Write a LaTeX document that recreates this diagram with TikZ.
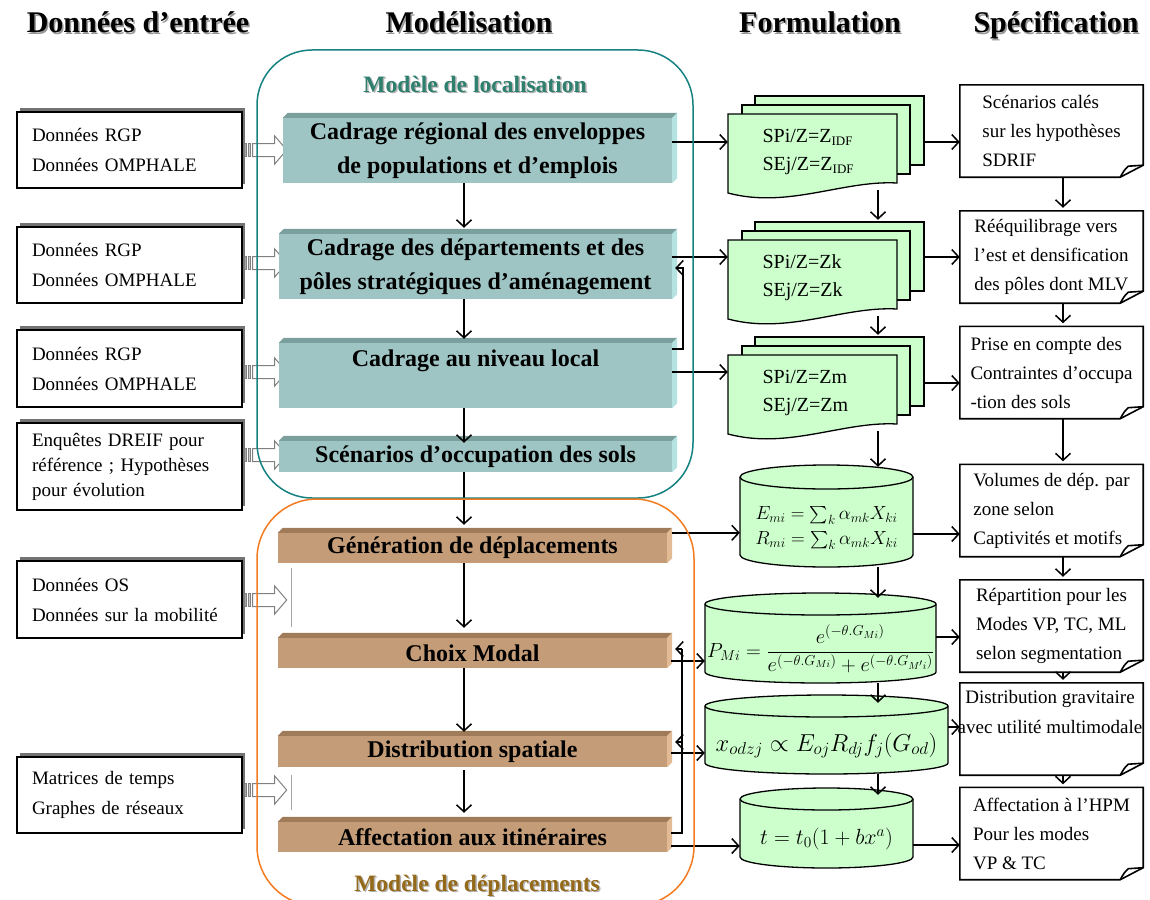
\RequirePackage{fix-cm}
\documentclass[tikz,border=0pt]{standalone}
\usepackage{amsmath}
\usepackage{fontspec}
\setmainfont{Liberation Serif}
\usetikzlibrary{arrows.meta,calc,shadows}

\definecolor{tealfront}{HTML}{9EC5C4}
\definecolor{tealtop}{HTML}{7B9F9D}
\definecolor{tealside}{HTML}{B5E3E1}
\definecolor{orfront}{HTML}{C49C77}
\definecolor{ortop}{HTML}{A07B5A}
\definecolor{orside}{HTML}{E2BA93}
\definecolor{docgreen}{HTML}{CCFFCC}
\definecolor{tealline}{HTML}{178282}
\definecolor{orline}{HTML}{F47B20}
\definecolor{loctext}{HTML}{2F7F6F}
\definecolor{deptext}{HTML}{946A1A}

\newcommand\idf{\raisebox{-0.35ex}{\fontsize{13}{13}\selectfont IDF}}

\newcommand\mybevel[3]{%
 \fill[#2] (#1.north west) -- ++(5,5) -- ($(#1.north east)+(5,5)$) -- (#1.north east) -- cycle;
 \fill[#3] (#1.north east) -- ++(5,5) -- ($(#1.south east)+(5,5)$) -- (#1.south east) -- cycle;}

\newcommand\mydoc[4]{%
 \filldraw[docst] ({#2+27},{-#3+18}) rectangle ({#2+196},{-#3-51});
 \filldraw[docst] ({#2+14},{-#3+9}) rectangle ({#2+182},{-#3-60});
 \filldraw[docst] ({#2},{-#3}) -- ({#2+169},{-#3}) -- ({#2+169},{-#3-69})
   .. controls ({#2+115},{-#3-66}) and ({#2+60},{-#3-95}) .. ({#2},{-#3-79}) -- cycle;
 \node[doc] (#1) at ({#2+84.5},{-#3-38}) {#4};}

\newcommand\mycyl[8]{%
 \filldraw[cylst] ({#2},{-#4-#6}) -- ({#2},{-#5+#6})
   arc[start angle=180,end angle=360,x radius={(#3-#2)/2},y radius={#6}]
   -- ({#3},{-#4-#6})
   arc[start angle=0,end angle=180,x radius={(#3-#2)/2},y radius={#6}] -- cycle;
 \draw[cylst] ({#2},{-#4-#6}) arc[start angle=180,end angle=360,x radius={(#3-#2)/2},y radius={#6}];
 \node[cylnode,#7,minimum width={#3-#2},minimum height={#5-#4-2*#6}] (#1) at ({(#2+#3)/2},{-(#4+2*#6+#5)/2}) {#8};}

\newcommand\myspec[1]{%
 \draw[specline] (#1.north west) -- (#1.north east) -- ($(#1.south east)+(0,12)$) -- ($(#1.south east)+(-23,0)$) -- (#1.south west) -- cycle;
 \draw[specline] ($(#1.south east)+(-23,0)$) .. controls ($(#1.south east)+(-19,7)$) .. ($(#1.south east)+(-15,11)$) -- ($(#1.south east)+(0,12)$);}

\newcommand\myharrow[1]{%
 \filldraw[hollow,fill=black!35] ($(#1)+(2,-6.5)$) rectangle ($(#1)+(4,6.5)$);
 \filldraw[hollow,fill=black!20] ($(#1)+(5.5,-6.5)$) rectangle ($(#1)+(8,6.5)$);
 \filldraw[hollow] ($(#1)+(10,-6.5)$) -- ($(#1)+(32,-6.5)$) -- ($(#1)+(32,-14)$) -- ($(#1)+(44,0)$) -- ($(#1)+(32,14)$) -- ($(#1)+(32,6.5)$) -- ($(#1)+(10,6.5)$) -- cycle;}

\begin{document}
\begin{tikzpicture}[x=1pt,y=1pt,
 hdr/.style={font=\fontsize{30}{36}\selectfont\bfseries, inner sep=0pt, anchor=base},
 lab/.style={font=\fontsize{23.5}{28}\selectfont\bfseries, inner sep=0pt, anchor=base},
 tbox/.style={fill=tealfront, inner sep=0pt, align=center, font=\fontsize{24}{34}\selectfont\bfseries},
 obox/.style={fill=orfront, inner sep=0pt, align=center, font=\fontsize{24}{34}\selectfont\bfseries},
 inbox/.style={draw, line width=1.4pt, fill=white, inner sep=0pt, minimum width=225, text width=195, align=left,
   font=\fontsize{19}{30}\selectfont, drop shadow={shadow xshift=3pt, shadow yshift=4pt, fill=black!55, opacity=1}},
 doc/.style={inner sep=0pt, minimum width=169, minimum height=76, text width=100, align=left, font=\fontsize{20}{28}\selectfont},
 docst/.style={fill=docgreen, draw=black, line width=1.3pt},
 cylst/.style={fill=docgreen, draw=black, line width=1.3pt},
 cylnode/.style={inner sep=0pt, align=center},
 spec/.style={inner sep=0pt, minimum width=183, minimum height=92, align=left, font=\fontsize{19}{29}\selectfont},
 specline/.style={line width=1.6pt, line join=miter},
 hollow/.style={draw=black!50, fill=white, line width=1pt},
 arr/.style={line width=1.5pt, -{Straight Barb[length=7pt,width=15pt]}},
 line/.style={line width=1.5pt},
]
\useasboundingbox (0,0) rectangle (1150,-899);
\fill[white] (0,0) rectangle (1150,-899);

% headers
\node[hdr, text=black!40] (h1s) at (139.5,-34.5) {Données d’entrée};
\node[hdr] (h1) at (138,-33) {Données d’entrée};
\node[hdr, text=black!40] (h2s) at (470.5,-34.5) {Modélisation};
\node[hdr] (h2) at (469,-33) {Modélisation};
\node[hdr, text=black!40] (h3s) at (821.5,-34.5) {Formulation};
\node[hdr] (h3) at (820,-33) {Formulation};
\node[hdr, text=black!40] (h4s) at (1057.5,-34.5) {Spécification};
\node[hdr] (h4) at (1056,-33) {Spécification};

% input boxes
\node[inbox, minimum height=76] (L1) at (129.5,-150) {Données RGP\\Données OMPHALE};
\node[inbox, minimum height=76] (L2) at (129.5,-265) {Données RGP\\Données OMPHALE};
\node[inbox, minimum height=77] (L3) at (129.5,-368.5) {Données RGP\\Données OMPHALE};
\node[inbox, minimum height=87, font=\fontsize{19}{25}\selectfont] (L4) at (129.5,-466.5) {Enquêtes DREIF pour\\référence ; Hypothèses\\pour évolution};
\node[inbox, minimum height=77] (L5) at (129.5,-599.5) {Données OS\\Données sur la mobilité};
\node[inbox, minimum height=76] (L6) at (129.5,-795) {Matrices de temps\\Graphes de réseaux};

% hollow arrows
\coordinate (ha1) at ($(L1.east)+(0,0)$);
\coordinate (ha2) at ($(L2.east)+(0,2)$);
\coordinate (ha3) at ($(L3.east)+(0,-3.5)$);
\coordinate (ha4) at ($(L4.east)+(0,11.5)$);
\coordinate (ha5) at ($(L5.east)+(0,-0.5)$);
\coordinate (ha6) at ($(L6.east)+(0,5)$);
\myharrow{ha1}
\myharrow{ha2}
\myharrow{ha3}
\myharrow{ha4}
\myharrow{ha5}
\myharrow{ha6}
\draw[black!35, line width=0.8pt] ($(ha5)+(49,32)$) -- ++(0,-59);
\draw[black!35, line width=0.8pt] ($(ha6)+(49,15)$) -- ++(0,-35);

% teal boxes
\node[tbox, minimum width=389, minimum height=65] (b1) at (477.5,-150.5) {Cadrage régional des enveloppes\\de populations et d’emplois};
\node[tbox, minimum width=393, minimum height=65] (b2) at (475.5,-266.5) {Cadrage des départements et des\\pôles stratégiques d’aménagement};
\node[tbox, minimum width=393, minimum height=65] (b3) at (475.5,-375.5) {Cadrage au niveau local\\\mbox{}};
\node[tbox, minimum width=393, minimum height=31] (b4) at (475.5,-456.5) {Scénarios d’occupation des sols};
\mybevel{b1}{tealtop}{tealside}
\mybevel{b2}{tealtop}{tealside}
\mybevel{b3}{tealtop}{tealside}
\mybevel{b4}{tealtop}{tealside}

% orange boxes
\node[obox, minimum width=389, minimum height=30] (o1) at (472.5,-548) {Génération de déplacements};
\node[obox, minimum width=389, minimum height=30] (o2) at (472.5,-653) {Choix Modal};
\node[obox, minimum width=389, minimum height=31] (o3) at (472.5,-751.5) {Distribution spatiale};
\node[obox, minimum width=389, minimum height=30] (o4) at (472.5,-837) {Affectation aux itinéraires};
\mybevel{o1}{ortop}{orside}
\mybevel{o2}{ortop}{orside}
\mybevel{o3}{ortop}{orside}
\mybevel{o4}{ortop}{orside}

% documents
\mydoc{d1}{728}{114}{SPi/Z=Z\idf\\SEj/Z=Z\idf}
\mydoc{d2}{728}{240}{SPi/Z=Zk\\SEj/Z=Zk}
\mydoc{d3}{728}{355}{SPi/Z=Zm\\SEj/Z=Zm}

% cylinders
\mycyl{cy1}{740}{913}{465}{567}{12}{font=\fontsize{19}{25}\selectfont}{$E_{mi}=\sum_{k}\alpha_{mk}X_{ki}$\\$R_{mi}=\sum_{k}\alpha_{mk}X_{ki}$}
\mycyl{cy2}{705}{936}{593}{683}{11}{font=\fontsize{20.5}{24}\selectfont}{$P_{Mi}=\dfrac{e^{(-\theta.G_{Mi})}}{e^{(-\theta.G_{Mi})}+e^{(-\theta.G_{M'i})}}$}
\mycyl{cy3}{705}{948}{695}{774}{11}{font=\fontsize{24.5}{28}\selectfont}{$x_{odzj}\propto E_{oj}R_{dj}f_{j}(G_{od})$}
\mycyl{cy4}{740}{913}{788}{868}{11}{font=\fontsize{22}{26}\selectfont}{$t=t_{0}(1+bx^{a})$}

% specification notes
\node[spec] (s1) at (1051.5,-131) {Scénarios calés\\sur les hypothèses\\SDRIF};
\node[spec] (s2) at (1051.5,-257) {Rééquilibrage vers\\l’est et densification\\des pôles dont MLV};
\node[spec] (s3) at (1051.5,-372.5) {Prise en compte des\\Contraintes d’occupa\\-tion des sols};
\node[spec] (s4) at (1051.5,-510.5) {Volumes de dép. par\\zone selon\\Captivités et motifs};
\node[spec] (s5) at (1051.5,-626) {Répartition pour les\\Modes VP, TC, ML\\selon segmentation};
\node[spec] (s6) at (1051.5,-729) {};
\node[spec, align=center, font=\fontsize{19}{30}\selectfont] (s6t) at (1050,-712) {Distribution gravitaire\\avec utilité multimodale};
\node[spec] (s7) at (1051.5,-833.5) {Affectation à l’HPM\\Pour les modes\\VP \& TC};
\myspec{s1}
\myspec{s2}
\myspec{s3}
\myspec{s4}
\myspec{s5}
\myspec{s6}
\myspec{s7}

% axes
\coordinate (ax) at (464,0);
\coordinate (ax2) at (878,0);
\coordinate (ax3) at (1063,0);

% modelling chain
\draw[arr] (b1.south -| ax) -- ($(b2.north -| ax)+(0,6)$);
\draw[arr] (b2.south -| ax) -- ($(b3.north -| ax)+(0,4)$);
\draw[arr] (b3.south -| ax) -- ($(b4.north -| ax)+(0,-2)$);
\draw[arr] (b4.south -| ax) -- ($(o1.north -| ax)+(0,8)$);
\draw[arr] (o1.south -| ax) -- ($(o2.north -| ax)+(0,10)$);
\draw[arr] (o2.south -| ax) -- ($(o3.north -| ax)+(0,4)$);
\draw[arr] ($(o3.south -| ax)+(0,-3)$) -- ($(o4.north -| ax)+(0,9)$);

% feedback local -> departements
\coordinate (fbC) at ($(b2.east)+(11,-1.5)$);
\draw[arr] ($(b3.north east)+(0,-6)$) -| (fbC) -- ($(b2.east)+(3,-1.5)$);

% teal boxes -> documents
\coordinate (q1) at ($(b1.east)+(0,8.5)$);
\coordinate (q2) at ($(b2.east)+(0,9.5)$);
\coordinate (q3) at ($(b3.east)+(0,3.5)$);
\draw[arr] (q1) -- (q1 -| d1.west);
\draw[arr] (q2) -- (q2 -| d2.west);
\draw[arr] (q3) -- (q3 -| d3.west);

% documents -> specs
\coordinate (r1) at ($(d1.east)+(27,10)$);
\coordinate (r2) at ($(d2.east)+(27,21)$);
\coordinate (r3) at ($(d3.east)+(27,10)$);
\draw[arr] (r1) -- (r1 -| s1.west);
\draw[arr] (r2) -- (r2 -| s2.west);
\draw[arr] (r3) -- (r3 -| s3.west);

% formulation chain
\draw[arr] (d1.south -| ax2) -- ($(d2.north -| ax2)+(0,20)$);
\draw[arr] (d2.south -| ax2) -- ($(d3.north -| ax2)+(0,20)$);
\draw[arr] (d3.south -| ax2) -- ($(cy1.north -| ax2)+(0,22)$);
\draw[arr] (cy1.south -| ax2) -- ($(cy2.north -| ax2)+(0,17)$);
\draw[arr] (cy2.south -| ax2) -- ($(cy3.north -| ax2)+(0,14)$);
\draw[arr] (cy3.south -| ax2) -- ($(cy4.north -| ax2)+(0,15)$);

% cylinders -> specs
\coordinate (t1) at ($(cy1.east)+(0,-6)$);
\coordinate (t2) at ($(cy2.east)+(0,12)$);
\coordinate (t3) at ($(cy3.east)+(0,18.5)$);
\coordinate (t4) at ($(cy4.east)+(0,-6)$);
\draw[arr] (t1) -- (t1 -| s4.west);
\draw[arr] (t2) -- (t2 -| s5.west);
\draw[arr] (t3) -- (t3 -| s6.west);
\draw[arr] (t4) -- (t4 -| s7.west);

% orange boxes -> cylinders
\coordinate (u1) at ($(o1.north east)+(5,0)$);
\coordinate (u2) at ($(o2.east)+(4,-8)$);
\coordinate (u3) at ($(o3.east)+(4,-1.5)$);
\coordinate (u4) at ($(o4.east)+(4,-9)$);
\draw[arr] (u1) -- (u1 -| cy1.west);
\draw[arr] (u2) -- (u2 -| cy2.west);
\draw[arr] (u3) -- (u3 -| cy3.west);
\draw[arr] (u4) -- (u4 -| cy4.west);

% feedback affectation -> choix / distribution
\coordinate (fbA) at ($(o2.east)+(15,4)$);
\coordinate (fbB) at ($(o3.east)+(15,9.5)$);
\draw[line] ($(o4.east)+(4,4)$) -| (fbA);
\draw[arr] (fbA) -- ($(o2.east)+(8,4)$);
\draw[arr] (fbB) -- ($(o3.east)+(8,9.5)$);

% spec chain
\draw[arr] (s1.south -| ax3) -- ($(s2.north -| ax3)+(0,3)$);
\draw[arr] (s2.south -| ax3) -- ($(s3.north -| ax3)+(0,3)$);
\draw[arr] (s3.south -| ax3) -- ($(s4.north -| ax3)+(0,3)$);
\draw[arr] (s4.south -| ax3) -- ($(s5.north -| ax3)+(0,3)$);
\draw[arr] (s5.south -| ax3) -- ($(s6.north -| ax3)+(0,3)$);
\draw[arr] (s6.south -| ax3) -- ($(s7.north -| ax3)+(0,3)$);

% containers
\draw[tealline, line width=1.5pt, rounded corners=55pt] (257,-50) rectangle (693,-498);
\draw[orline, line width=1.5pt, rounded corners=60pt] (257,-499) rectangle (694,-906);
\node[lab, text=black!30] (locs) at (476.5,-93.5) {Modèle de localisation};
\node[lab, text=loctext] (loc) at (475,-92) {Modèle de localisation};
\node[lab, text=black!30] (deps) at (478.5,-892.5) {Modèle de déplacements};
\node[lab, text=deptext] (dep) at (477,-891) {Modèle de déplacements};
\end{tikzpicture}
\end{document}
